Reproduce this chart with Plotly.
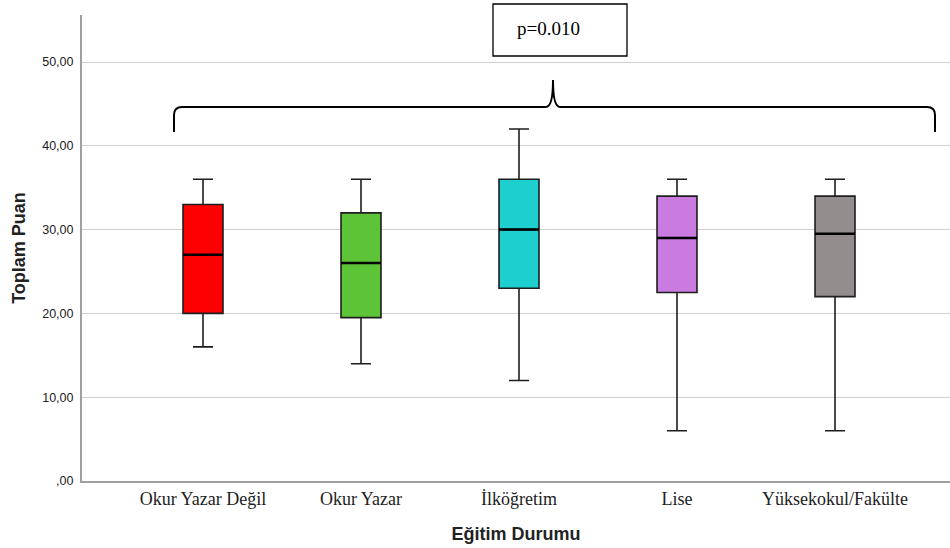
import plotly.graph_objects as go

categories = ["Okur Yazar Değil", "Okur Yazar", "İlköğretim", "Lise", "Yüksekokul/Fakülte"]
lower_whisker = [16, 14, 12, 6, 6]
q1 = [20, 19.5, 23, 22.5, 22]
median = [27, 26, 30, 29, 29.5]
q3 = [33, 32, 36, 34, 34]
upper_whisker = [36, 36, 42, 36, 36]
colors = ["#FF0000", "#5DC337", "#1DCFCF", "#C97BE0", "#938D8E"]

y_tickvals = [0, 10, 20, 30, 40, 50]
y_ticktext = [",00", "10,00", "20,00", "30,00", "40,00", "50,00"]
p_text = "p=0.010"

BOXW = 0.253

# layout in screen pixels (body margin removed below)
L_s, R_s, T_s, B_s = 82, 950, 15, 481
W, H = 950, 548
L, T, B, R = L_s, T_s, H - B_s, W - R_s
pw = W - L - R
ph = H - T - B

fig = go.Figure()
for i, c in enumerate(categories):
    fig.add_trace(go.Box(
        x=[c], q1=[q1[i]], median=[median[i]], q3=[q3[i]],
        lowerfence=[lower_whisker[i]], upperfence=[upper_whisker[i]],
        fillcolor=colors[i], line=dict(color="#1e1e1e", width=1.6),
        width=BOXW, whiskerwidth=0.5, boxpoints=False, showlegend=False,
        hoverinfo="skip",
    ))
    fig.add_shape(type="line", xref="x", yref="y",
                  x0=i - BOXW / 2, x1=i + BOXW / 2, y0=median[i], y1=median[i],
                  line=dict(color="black", width=2.5), layer="above")


def px(xs):
    return (xs - L_s) / pw


def py(ys):
    return (B_s - ys) / ph


# curly bracket
xl, xr, xc = px(174), px(935), px(553)
yb, yh, yt = py(132), py(107), py(80)
yq = py(115)
d1 = px(182) - xl
d2 = px(560) - xc
path = (f"M {xl},{yb} L {xl},{yq} Q {xl},{yh} {xl + d1},{yh} "
        f"L {xc - d2},{yh} Q {xc},{yh} {xc},{yt} Q {xc},{yh} {xc + d2},{yh} "
        f"L {xr - d1},{yh} Q {xr},{yh} {xr},{yq} L {xr},{yb}")
fig.add_shape(type="path", xref="paper", yref="paper", path=path,
              line=dict(color="black", width=2))

# p-value box
fig.add_shape(type="rect", xref="paper", yref="paper",
              x0=px(493), x1=px(627), y0=py(56), y1=py(4),
              line=dict(color="black", width=1.3), fillcolor="white")
fig.add_annotation(xref="paper", yref="paper", x=px(548), y=py(28),
                   xanchor="center", yanchor="middle",
                   text=p_text, showarrow=False,
                   font=dict(family="Liberation Serif", size=19, color="black"))

fig.update_layout(
    width=W, height=H,
    margin=dict(l=L, r=R, t=T, b=B),
    paper_bgcolor="white", plot_bgcolor="white",
    boxmode="overlay",
    xaxis=dict(
        type="category", categoryorder="array", categoryarray=categories,
        range=[(L_s - 203) / 158, (R_s - 203) / 158],
        showgrid=False, showline=True, linecolor="#A0A0A0", linewidth=2,
        ticks="", tickfont=dict(family="Liberation Serif", size=18, color="#222"),
        title=dict(text="<b>Eğitim Durumu</b>", standoff=20,
                   font=dict(family="Liberation Sans", size=18, color="#222")),
        zeroline=False,
    ),
    yaxis=dict(
        range=[0, (B_s - T_s) / 8.38],
        tickvals=y_tickvals, ticktext=y_ticktext,
        showgrid=True, gridcolor="#D0D0D0", gridwidth=1.2,
        showline=True, linecolor="#A0A0A0", linewidth=2,
        ticks="outside", ticklen=4, tickcolor="rgba(0,0,0,0)",
        tickfont=dict(family="Liberation Sans", size=12.5, color="#222"),
        title=dict(text="<b>Toplam Puan</b>", standoff=12,
                   font=dict(family="Liberation Sans", size=18, color="#222")),
        zeroline=False,
    ),
)

fig.write_html("out.html",
               config={"displayModeBar": False},
               post_script="document.body.style.margin='0';document.body.style.overflow='hidden';")
